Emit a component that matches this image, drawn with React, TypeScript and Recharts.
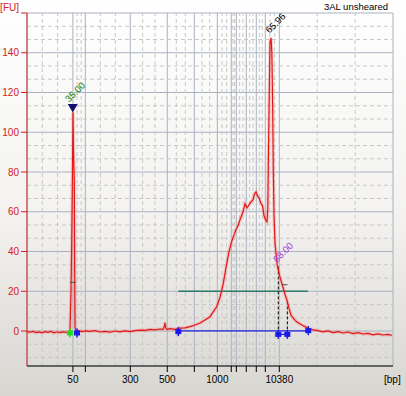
import React from 'react';
import {
  ComposedChart,
  Line,
  XAxis,
  YAxis,
  CartesianGrid,
  ReferenceLine,
  ReferenceDot,
} from 'recharts';

const FONT = '"Liberation Sans", Arial, sans-serif';
const RED = '#e01818';
const AXIS_RED = '#d42020';

// ladder peaks: size in bp and migration time in s
const LADDER_BP = [50, 100, 300, 500, 700, 1000, 1500, 2000, 3000, 5000, 7000, 10380];
const LADDER_TIME = [35.0, 36.95, 44.0, 49.8, 54.04, 57.65, 59.84, 60.63, 62.19, 63.76, 65.17, 67.37];
const LABELED_BP = [50, 300, 500, 1000, 10380];
const FU_TICKS = [0, 20, 40, 60, 80, 100, 120, 140, 160];

const X_DOMAIN: [number, number] = [27.8, 85.2];
const Y_DOMAIN: [number, number] = [-17.6, 160];

// electropherogram trace, time (s) and fluorescence (FU)
const TRACE_T = [
  27.8, 28.27, 28.74, 29.21, 29.68, 30.15, 30.62, 31.09, 31.56, 32.03, 32.51, 32.98, 33.45, 33.92, 34.23,
  34.54, 34.7, 34.81, 34.93, 35.01, 35.1, 35.22, 35.28, 35.33, 35.49,
  35.8, 36.43, 37.05, 37.68, 38.46, 39.25, 40.03, 40.82, 41.6, 42.39, 43.17, 43.95, 44.74, 45.52, 46.31,
  47.09, 47.88, 48.66, 49.13, 49.37, 49.44, 49.55, 49.76, 50.23, 51.01, 51.8, 52.58, 53.37, 54.15, 54.93,
  55.72, 56.5, 56.97, 57.55, 58.07, 58.59, 59.01, 59.48, 59.8, 60.11, 60.58, 60.89, 61.21, 61.68, 61.99,
  62.3, 62.62, 62.93, 63.24, 63.48, 63.72, 63.95, 64.19, 64.51, 64.74, 64.97, 65.21, 65.44, 65.57, 65.65,
  65.76, 65.91, 66.07, 66.2, 66.34, 66.43, 66.54, 66.7, 67.05, 67.48, 67.95, 68.26, 68.57, 68.89, 69.2,
  69.67, 70.14, 70.93, 71.71, 72.65, 73.44, 74.22, 75.01, 75.79, 76.58, 77.36, 78.14, 78.93, 79.71, 80.5,
  81.28, 82.07, 82.85, 83.64, 84.42, 85.0,
];
const TRACE_FU = [
  -0.3, -0.6, -0.2, -0.8, -0.4, -0.9, -0.3, -0.7, -0.2, -0.9, -0.5, -0.8, -0.4, -0.7, -0.5,
  0, 20, 44, 80, 110, 90, 76, 30, 2, -0.3,
  0.2, -0.3, 0.1, -0.2, 0.2, -0.5, -0.2, -0.6, 0, -0.4, 0.1, -0.3, 0.2, 0.4, 0.3,
  0.8, 0.6, 1.0, 0.8, 2.5, 4.2, 1.5, 0.8, 1.2, 0.8, 1.5, 1.6, 2.2, 3.0, 4.0,
  5.5, 7.2, 9.5, 12.2, 17, 24, 32, 40, 44, 47, 51, 53, 56, 60, 64,
  62, 63.5, 65, 66, 69, 70, 68, 67, 64, 63, 58, 56, 55, 62, 86,
  112, 145, 147.5, 140, 110, 80, 58, 44, 33, 27, 22, 18.5, 15.5, 11.5, 8,
  6, 4.5, 3, 1.6, 0.6, 0.2, -0.4, 0.1, -0.8, -0.3, -1.0, -0.5, -1.3, -0.8, -1.5,
  -1.2, -1.9, -1.4, -2.0, -1.7, -2.2,
];

// peak annotations
const PEAK_LABELS = [
  { t: 34.39, fu: 114.8, text: '35.00', color: '#108010' },
  { t: 65.83, fu: 149.5, text: '65.96', color: '#000000' },
  { t: 67.01, fu: 34.2, text: '88.00', color: '#9c3ce0' },
];
const LOWER_MARKER = { t: 34.97, fu: 110 };
const START_MARKERS = [{ t: 34.54, fu: -1 }];
const END_MARKERS = [
  { t: 35.64, fu: -1 },
  { t: 51.53, fu: -0.3 },
  { t: 67.21, fu: -1.7 },
  { t: 68.63, fu: -1.7 },
  { t: 71.91, fu: 0.2 },
];
const REGION = { from: 51.53, to: 71.85, level: 20 };
const REGION_CUTS = [
  { t: 67.21, top: 33 },
  { t: 68.63, top: 15.6 },
];
const WIDTH_BARS = [
  { from: 34.54, to: 35.49, fu: 24.5 },
  { from: 67.75, to: 68.63, fu: 23.3 },
];

const data = TRACE_T.map((t, i) => ({ t, fu: TRACE_FU[i] }));

// dashed minor grid at thirds between major lines
const minorX: number[] = [];
const xb = [X_DOMAIN[0], ...LADDER_TIME, X_DOMAIN[1]];
for (let i = 0; i < xb.length - 1; i++) {
  const d = xb[i + 1] - xb[i];
  minorX.push(xb[i] + d / 3, xb[i] + (2 * d) / 3);
}
const minorY: number[] = [];
for (let k = -2; k <= 23; k++) {
  if (k % 3 !== 0) minorY.push((k * 20) / 3);
}

const xTickLabel = (t: number) => {
  const i = LADDER_TIME.indexOf(t);
  const bp = LADDER_BP[i];
  return LABELED_BP.includes(bp) ? String(bp) : '';
};

const FuTick = (props: any) => {
  const { x, y, payload } = props;
  const top = payload.value === 160;
  return (
    <text x={x} y={y} dy={top ? -2 : 3.5} textAnchor="end" fill={AXIS_RED} fontSize={10} fontFamily={FONT}>
      {top ? '[FU]' : payload.value}
    </text>
  );
};

const markerShape = (color: string) => (p: any) => (
  <g fill={color}>
    <rect x={p.cx - 3} y={p.cy - 2.5} width={6} height={5} />
    <rect x={p.cx - 0.75} y={p.cy - 4.5} width={1.5} height={9} />
  </g>
);

const triangleShape = (p: any) => (
  <polygon
    points={`${p.cx - 5},${p.cy - 8.5} ${p.cx + 5},${p.cy - 8.5} ${p.cx},${p.cy}`}
    fill="#12126e"
  />
);

const labelShape = (text: string, color: string) => (p: any) => (
  <text
    x={p.cx}
    y={p.cy}
    transform={`rotate(-45 ${p.cx} ${p.cy})`}
    fill={color}
    fontSize={9.5}
    fontFamily={FONT}
  >
    {text}
  </text>
);

export default function App() {
  return (
    <div
      style={{
        position: 'relative',
        width: 406,
        height: 396,
        background: 'linear-gradient(#ffffff 0%, #f3f2f0 55%, #d8d6d1 100%)',
        fontFamily: FONT,
      }}
    >
      <style>{'body{margin:0}'}</style>
      <ComposedChart width={406} height={396} data={data} margin={{ top: 13, right: 13, left: 0, bottom: 0 }}>
        <CartesianGrid stroke="#aab2bf" strokeWidth={1} />
        {minorX.map((v, i) => (
          <ReferenceLine key={'mx' + i} x={v} stroke="#c8c8c8" strokeDasharray="4 3" />
        ))}
        {minorY.map((v, i) => (
          <ReferenceLine key={'my' + i} y={v} stroke="#c8c8c8" strokeDasharray="4 3" />
        ))}
        <XAxis
          type="number"
          dataKey="t"
          domain={X_DOMAIN}
          allowDataOverflow
          ticks={LADDER_TIME}
          interval={0}
          tickFormatter={xTickLabel}
          height={30}
          tickSize={6}
          tickMargin={4}
          axisLine={{ stroke: '#000' }}
          tickLine={{ stroke: '#000' }}
          tick={{ fill: '#000', fontSize: 10, fontFamily: FONT }}
        />
        <YAxis
          type="number"
          domain={Y_DOMAIN}
          allowDataOverflow
          ticks={FU_TICKS}
          interval={0}
          width={27}
          tickSize={6}
          tickMargin={2}
          axisLine={{ stroke: AXIS_RED }}
          tickLine={{ stroke: AXIS_RED }}
          tick={<FuTick />}
        />
        <ReferenceLine
          segment={[{ x: REGION.from, y: REGION.level }, { x: REGION.to, y: REGION.level }]}
          stroke="#2c7a6a"
          strokeWidth={1.5}
        />
        <ReferenceLine
          segment={[{ x: REGION.from, y: 0.1 }, { x: 71.91, y: 0.1 }]}
          stroke="#2222dd"
          strokeWidth={1.3}
        />
        <ReferenceLine
          segment={[{ x: 67.21, y: -1.7 }, { x: 68.63, y: -1.7 }]}
          stroke="#2222dd"
          strokeWidth={1.3}
        />
        {REGION_CUTS.map((c, i) => (
          <ReferenceLine
            key={'cut' + i}
            segment={[{ x: c.t, y: -1.7 }, { x: c.t, y: c.top }]}
            stroke="#000"
            strokeDasharray="3 2"
          />
        ))}
        <Line
          dataKey="fu"
          type="linear"
          stroke="#ff6a6a"
          strokeOpacity={0.28}
          strokeWidth={3.5}
          dot={false}
          activeDot={false}
          isAnimationActive={false}
        />
        <Line
          dataKey="fu"
          type="linear"
          stroke={RED}
          strokeWidth={1.2}
          dot={false}
          activeDot={false}
          isAnimationActive={false}
        />
        {WIDTH_BARS.map((w, i) => (
          <ReferenceLine
            key={'w' + i}
            segment={[{ x: w.from, y: w.fu }, { x: w.to, y: w.fu }]}
            stroke="#505050"
          />
        ))}
        {START_MARKERS.map((m, i) => (
          <ReferenceDot key={'s' + i} x={m.t} y={m.fu} r={3} shape={markerShape('#22dd22')} />
        ))}
        {END_MARKERS.map((m, i) => (
          <ReferenceDot key={'e' + i} x={m.t} y={m.fu} r={3} shape={markerShape('#1a1aee')} />
        ))}
        <ReferenceDot x={LOWER_MARKER.t} y={LOWER_MARKER.fu} r={5} shape={triangleShape} />
        {PEAK_LABELS.map((l, i) => (
          <ReferenceDot key={'l' + i} x={l.t} y={l.fu} r={1} shape={labelShape(l.text, l.color)} />
        ))}
      </ComposedChart>
      <svg width={406} height={396} style={{ position: 'absolute', left: 0, top: 0, pointerEvents: 'none' }}>
        <text x={388} y={10} textAnchor="end" fontSize={9.5} fontFamily={FONT} fill="#000">
          3AL unsheared
        </text>
        <text x={384} y={383} fontSize={10} fontFamily={FONT} fill="#000">
          [bp]
        </text>
      </svg>
    </div>
  );
}
